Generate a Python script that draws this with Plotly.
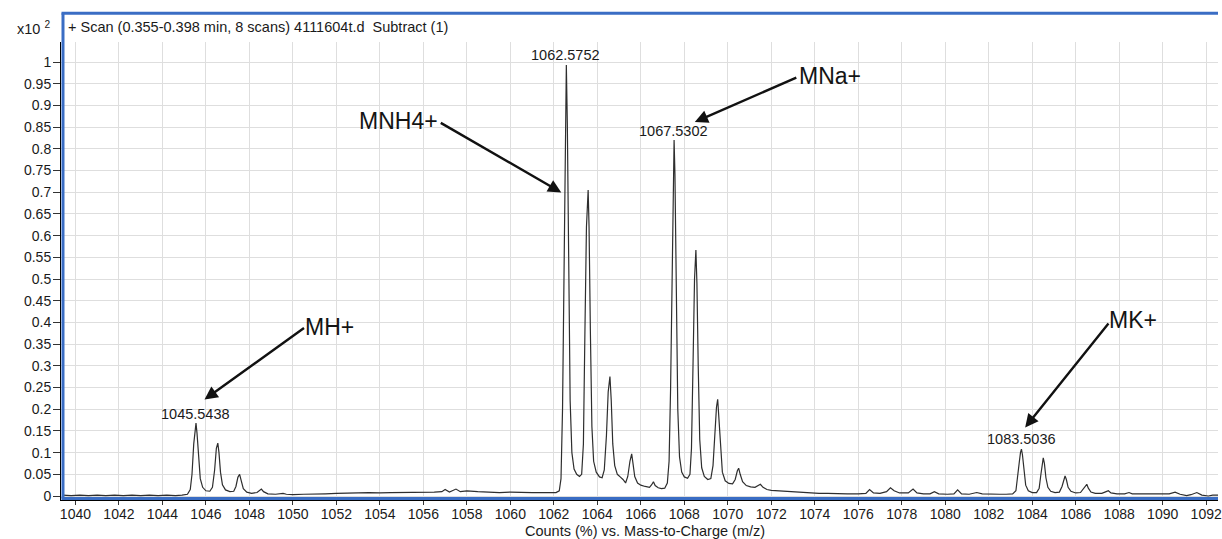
import plotly.graph_objects as go

# ---------------- data ----------------
mz = [
    1039.40, 1039.80, 1040.20, 1040.60, 1041.00, 1041.40, 1041.80, 1042.20, 1042.60, 1043.00,
    1043.40, 1043.80, 1044.20, 1044.60, 1044.90,
    1045.15, 1045.28, 1045.36, 1045.44, 1045.50, 1045.544, 1045.59, 1045.66, 1045.74, 1045.85,
    1046.00, 1046.18, 1046.30, 1046.40, 1046.48, 1046.547, 1046.60, 1046.67, 1046.76, 1046.90,
    1047.10, 1047.28, 1047.38, 1047.47, 1047.55, 1047.62, 1047.72, 1047.88, 1048.10, 1048.35,
    1048.47, 1048.55, 1048.65, 1048.85, 1049.20, 1049.45, 1049.55, 1049.70, 1050.00, 1050.50,
    1051.00, 1051.50, 1052.00, 1052.50, 1053.00, 1053.50, 1054.00, 1054.50, 1055.00, 1055.50,
    1056.00, 1056.50, 1056.85, 1057.00, 1057.20, 1057.50, 1057.70, 1058.00, 1058.50, 1059.00,
    1059.50, 1060.00, 1060.50, 1061.00, 1061.50, 1061.80, 1062.10,
    1062.25, 1062.33, 1062.40, 1062.48, 1062.53, 1062.575, 1062.62, 1062.68, 1062.75, 1062.83,
    1062.93, 1063.05, 1063.18, 1063.28, 1063.36, 1063.43, 1063.50, 1063.578, 1063.62, 1063.68,
    1063.75, 1063.83, 1063.95, 1064.10, 1064.22, 1064.32, 1064.42, 1064.50, 1064.58, 1064.64,
    1064.71, 1064.80, 1064.92, 1065.05, 1065.18, 1065.30, 1065.40, 1065.50, 1065.58, 1065.64,
    1065.72, 1065.85, 1066.00, 1066.20, 1066.40, 1066.50, 1066.58, 1066.66, 1066.80, 1066.95,
    1067.10, 1067.22, 1067.30, 1067.37, 1067.44, 1067.49, 1067.53, 1067.57, 1067.63, 1067.70,
    1067.78, 1067.88, 1068.00, 1068.15, 1068.26, 1068.33, 1068.40, 1068.47, 1068.533, 1068.58,
    1068.64, 1068.71, 1068.80, 1068.92, 1069.08, 1069.22, 1069.32, 1069.40, 1069.48, 1069.535,
    1069.59, 1069.66, 1069.75, 1069.88, 1070.05, 1070.22, 1070.34, 1070.44, 1070.50, 1070.57,
    1070.68, 1070.85, 1071.05, 1071.25, 1071.40, 1071.50, 1071.62, 1071.80, 1072.00, 1072.30,
    1072.60, 1073.00, 1073.40, 1073.80, 1074.20, 1074.60, 1075.00, 1075.50, 1076.00, 1076.35,
    1076.52, 1076.70, 1077.00, 1077.30, 1077.48, 1077.65, 1077.90, 1078.30, 1078.52, 1078.70,
    1079.00, 1079.30, 1079.50, 1079.70, 1080.10, 1080.40, 1080.57, 1080.75, 1081.10, 1081.45,
    1081.70, 1082.00, 1082.50, 1082.80, 1083.10,
    1083.25, 1083.33, 1083.41, 1083.46, 1083.504, 1083.55, 1083.62, 1083.70, 1083.82, 1084.00,
    1084.20, 1084.32, 1084.40, 1084.46, 1084.507, 1084.56, 1084.63, 1084.72, 1084.85, 1085.05,
    1085.25, 1085.37, 1085.45, 1085.51, 1085.57, 1085.65, 1085.78, 1086.00, 1086.22, 1086.38,
    1086.46, 1086.51, 1086.58, 1086.70, 1086.90, 1087.20, 1087.40, 1087.50, 1087.62, 1087.90,
    1088.25, 1088.45, 1088.60, 1089.00, 1089.50, 1090.00, 1090.30, 1090.57, 1090.80, 1091.10,
    1091.30, 1091.57, 1091.80, 1092.10, 1092.30, 1092.60,
]
counts = [
    0.002, 0.001, 0.002, 0.001, 0.002, 0.001, 0.002, 0.001, 0.002, 0.001,
    0.002, 0.001, 0.002, 0.001, 0.002,
    0.004, 0.015, 0.050, 0.120, 0.160, 0.168, 0.145, 0.085, 0.040, 0.020,
    0.012, 0.011, 0.020, 0.060, 0.110, 0.122, 0.100, 0.055, 0.026, 0.014,
    0.010, 0.011, 0.022, 0.043, 0.050, 0.036, 0.017, 0.009, 0.006, 0.008,
    0.013, 0.016, 0.010, 0.005, 0.004, 0.005, 0.006, 0.004, 0.003, 0.004,
    0.004, 0.005, 0.006, 0.006, 0.007, 0.008, 0.007, 0.008, 0.008, 0.008,
    0.009, 0.009, 0.010, 0.015, 0.009, 0.016, 0.010, 0.012, 0.010, 0.009,
    0.008, 0.009, 0.008, 0.008, 0.008, 0.008, 0.008,
    0.012, 0.040, 0.200, 0.560, 0.860, 0.993, 0.860, 0.550, 0.220, 0.100,
    0.062, 0.050, 0.045, 0.050, 0.120, 0.380, 0.620, 0.705, 0.620, 0.380,
    0.160, 0.080, 0.055, 0.044, 0.042, 0.060, 0.140, 0.240, 0.275, 0.220,
    0.120, 0.070, 0.050, 0.044, 0.038, 0.030, 0.045, 0.080, 0.097, 0.075,
    0.045, 0.030, 0.025, 0.022, 0.020, 0.026, 0.033, 0.024, 0.019, 0.017,
    0.018, 0.030, 0.080, 0.250, 0.550, 0.740, 0.820, 0.740, 0.470, 0.200,
    0.090, 0.055, 0.044, 0.041, 0.050, 0.110, 0.300, 0.500, 0.567, 0.490,
    0.300, 0.130, 0.065, 0.045, 0.038, 0.040, 0.070, 0.140, 0.205, 0.223,
    0.180, 0.100, 0.055, 0.035, 0.029, 0.028, 0.038, 0.058, 0.064, 0.050,
    0.033, 0.024, 0.021, 0.020, 0.024, 0.027, 0.020, 0.015, 0.013, 0.012,
    0.010, 0.009, 0.008, 0.007, 0.006, 0.006, 0.005, 0.005, 0.005, 0.006,
    0.015, 0.007, 0.006, 0.010, 0.019, 0.012, 0.007, 0.007, 0.016, 0.007,
    0.005, 0.005, 0.010, 0.005, 0.004, 0.005, 0.014, 0.005, 0.004, 0.008,
    0.005, 0.004, 0.004, 0.004, 0.005,
    0.012, 0.040, 0.080, 0.100, 0.108, 0.095, 0.055, 0.025, 0.012, 0.008,
    0.008, 0.018, 0.050, 0.080, 0.088, 0.075, 0.042, 0.020, 0.011, 0.008,
    0.009, 0.022, 0.040, 0.046, 0.038, 0.020, 0.011, 0.007, 0.008, 0.018,
    0.025, 0.027, 0.018, 0.009, 0.006, 0.006, 0.010, 0.012, 0.007, 0.005,
    0.005, 0.008, 0.005, 0.005, 0.004, 0.004, 0.005, 0.009, 0.004, 0.001,
    0.003, 0.008, 0.002, 0.000, 0.002, 0.002,
]

peak_labels = ["1062.5752", "1067.5302", "1045.5438", "1083.5036"]
ion_labels = ["MNH4+", "MNa+", "MH+", "MK+"]
title_text = "+ Scan (0.355-0.398 min, 8 scans) 4111604t.d\u00a0 Subtract (1)"
x_title = "Counts (%) vs. Mass-to-Charge (m/z)"

# ---------------- geometry helpers ----------------
W, H = 1222, 539
ML, MT, MB = 61, 42, 39
PW, PH = W - ML, H - MT - MB
X0, PXU = 1040.0, 21.82          # 1040 at x=75.5px
Y0PX, PYU = 496.0, 434.0          # 0 at y=496px
x_range = [X0 - (75.5 - ML) / PXU, X0 - (75.5 - ML) / PXU + PW / PXU]
y_bottom = H - MB
y_range = [(Y0PX - y_bottom) / PYU, (Y0PX - MT) / PYU]


def px(xp):
    return (xp - ML) / PW


def py(yp):
    return (y_bottom - yp) / PH


FONT = "Liberation Sans, Arial, Helvetica, sans-serif"
BLUE = "#3a6dc4"
TXT = "#1a1a1a"

fig = go.Figure()
fig.add_trace(go.Scatter(x=mz, y=counts, mode="lines",
                         line=dict(color="#2e2e2e", width=1.2),
                         hoverinfo="skip", showlegend=False))

fig.update_layout(
    width=W, height=H,
    margin=dict(l=ML, r=0, t=MT, b=MB, pad=0),
    paper_bgcolor="white", plot_bgcolor="white",
    font=dict(family=FONT, size=14, color=TXT),
    showlegend=False,
)
fig.update_xaxes(range=x_range, tick0=1040, dtick=2, showgrid=True,
                 gridcolor="#dedede", gridwidth=1, zeroline=False,
                 showline=True, linecolor="black", linewidth=1,
                 ticks="outside", ticklen=4, tickcolor="#333333",
                 ticklabelstandoff=-3, ticklabeloverflow="allow",
                 tickfont=dict(size=14, color=TXT, family=FONT))
fig.update_yaxes(range=y_range, tick0=0, dtick=0.05, showgrid=True,
                 gridcolor="#dedede", gridwidth=1, zeroline=False,
                 showline=True, linecolor="black", linewidth=1,
                 ticks="outside", ticklen=7, tickcolor="#333333",
                 ticklabelstandoff=-1,
                 tickfont=dict(size=14, color=TXT, family=FONT))

# blue frame
top = py(13.3)
fig.add_shape(type="line", xref="paper", yref="paper", x0=px(61.5), x1=1.0,
              y0=top, y1=top, line=dict(color=BLUE, width=3), layer="above")
fig.add_shape(type="line", xref="paper", yref="paper", x0=px(63), x1=px(63),
              y0=top, y1=py(498.5), line=dict(color=BLUE, width=3), layer="above")
fig.add_shape(type="line", xref="paper", yref="paper", x0=px(61.5), x1=1.0,
              y0=py(498.5), y1=py(498.5), line=dict(color=BLUE, width=3), layer="above")

ann = []
# header texts
ann.append(dict(text="x10\u00a0<sup>2</sup>", xref="paper", yref="paper", x=px(15), y=py(28),
                xanchor="left", yanchor="middle", showarrow=False,
                font=dict(size=14.5, color=TXT, family=FONT)))
ann.append(dict(text=title_text, xref="paper", yref="paper", x=px(66), y=py(26.7),
                xanchor="left", yanchor="middle", showarrow=False,
                font=dict(size=14.5, color=TXT, family=FONT)))
ann.append(dict(text=x_title, xref="paper", yref="paper", x=px(647), y=py(531),
                xanchor="center", yanchor="middle", showarrow=False,
                font=dict(size=14.5, color=TXT, family=FONT)))

# peak labels (centre px positions)
peak_pos = [(567.5, 55.3), (675.5, 131.3), (196, 413.5), (1024.5, 438.7)]
for t, (xp_, yp_) in zip(peak_labels, peak_pos):
    ann.append(dict(text=t, xref="paper", yref="paper", x=px(xp_), y=py(yp_),
                    xanchor="center", yanchor="middle", showarrow=False,
                    font=dict(size=14.5, color=TXT, family=FONT)))

# ion labels
ion_pos = [(441, 121, "right"), (800, 76, "left"), (304, 326.5, "left"), (1111, 320, "left")]
for t, (xp_, yp_, anc) in zip(ion_labels, ion_pos):
    ann.append(dict(text=t, xref="paper", yref="paper", x=px(xp_), y=py(yp_),
                    xanchor=anc, yanchor="middle", showarrow=False,
                    font=dict(size=23, color="#141414", family=FONT)))

# arrows: (tail px, head px)
arrows = [((441, 122), (563, 192.5)), ((800, 77), (697, 122)),
          ((306, 327), (205, 399.5)), ((1113, 322), (1028.5, 427.5))]
for (tx, ty), (hx, hy) in arrows:
    ann.append(dict(text="", x=px(hx), y=py(hy), xref="paper", yref="paper",
                    ax=tx - hx, ay=ty - hy, axref="pixel", ayref="pixel",
                    showarrow=True, arrowhead=2, arrowsize=1.1, arrowwidth=2.4,
                    arrowcolor="#111111", standoff=0, startstandoff=0))

fig.update_layout(annotations=ann)
fig.write_html("out.html")
